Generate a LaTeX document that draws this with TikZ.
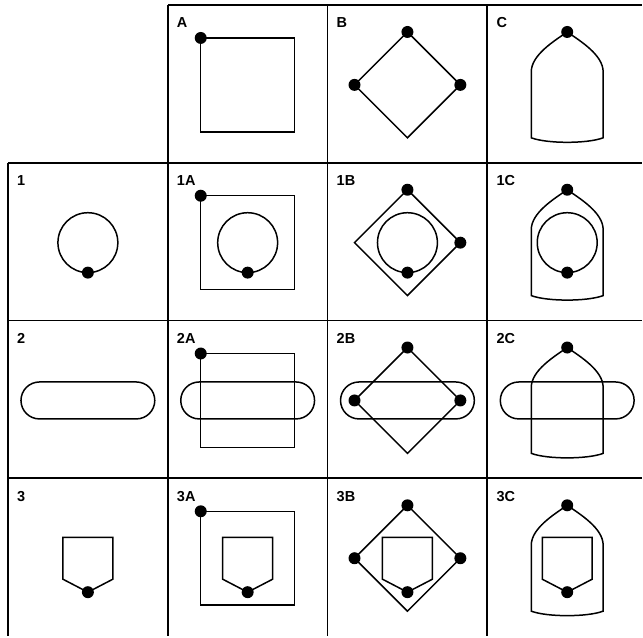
\documentclass[tikz,border=0pt]{standalone}
\usepackage{fontspec}
\setmainfont{Liberation Sans}
\usetikzlibrary{positioning}
\tikzset{
    cellline/.style={line width=1.8pt},
    shapeline/.style={line width=1.5pt},
    tag/.style={anchor=base west, inner sep=0pt, font=\fontsize{14.5}{15}\selectfont\bfseries},
    pics/frame/.style={code={
        \draw[shapeline] (-47,-47) rectangle (47,47);
        \fill (-47,-47) circle (6);}},
    pics/kite/.style={code={
        \draw[shapeline] (0,-53) -- (53,0) -- (0,53) -- (-53,0) -- cycle;
        \foreach \p in {#1} \fill \p circle (6);}},
    pics/arch/.style={code={
        \draw[shapeline] (-36,-13) .. controls (-36,-30) and (-13,-44) .. (0,-53)
            .. controls (13,-44) and (36,-30) .. (36,-13) -- (36,53)
            .. controls (20,59) and (-20,59) .. (-36,53) -- cycle;
        \fill (0,-53) circle (6);}},
    pics/ring/.style={code={
        \draw[shapeline] (0,0) circle (30);
        \fill (0,30) circle (6);}},
    pics/slot/.style={code={
        \draw[shapeline, rounded corners=18.5] (-67,-18.5) rectangle (67,18.5);}},
    pics/shield/.style={code={
        \draw[shapeline] (-25,-21) -- (25,-21) -- (25,21) -- (0,34) -- (-25,21) -- cycle;
        \fill (0,34) circle (6);}}
}

\begin{document}
\begin{tikzpicture}[x=1pt, y=-1pt]
  \fill[white] (0,0) rectangle (643,637);
  % grid
  \foreach \x in {168,328,488}
    \draw[cellline] (\x,5) -- (\x,637);
  \draw[cellline] (8,163) -- (8,637);
  \draw[cellline] (168,5) -- (643,5);
  \foreach \y in {163,321,479}
    \draw[cellline] (8,\y) -- (643,\y);
  % labels
  \foreach \col/\row/\txt in {1/0/A, 2/0/B, 3/0/C, 0/1/1, 1/1/1A, 2/1/1B, 3/1/1C,
      0/2/2, 1/2/2A, 2/2/2B, 3/2/2C, 0/3/3, 1/3/3A, 2/3/3B, 3/3/3C}
    \node[tag] (t\txt) at ({17+160*\col}, {28+158*\row}) {\txt};
  % top row
  \pic at (248,85) {frame};
  \pic at (408,85) {kite={(0,-53),(53,0),(-53,0)}};
  \pic at (568,85) {arch};
  % circle row
  \pic at (88,243) {ring};
  \pic at (248,243) {frame};
  \pic at (248,243) {ring};
  \pic at (408,243) {kite={(0,-53),(53,0)}};
  \pic at (408,243) {ring};
  \pic at (568,243) {arch};
  \pic at (568,243) {ring};
  % slot row
  \pic at (88,401) {slot};
  \pic at (248,401) {frame};
  \pic at (248,401) {slot};
  \pic at (408,401) {kite={(0,-53),(53,0),(-53,0)}};
  \pic at (408,401) {slot};
  \pic at (568,401) {arch};
  \pic at (568,401) {slot};
  % shield row
  \pic at (88,559) {shield};
  \pic at (248,559) {frame};
  \pic at (248,559) {shield};
  \pic at (408,559) {kite={(0,-53),(53,0),(-53,0)}};
  \pic at (408,559) {shield};
  \pic at (568,559) {arch};
  \pic at (568,559) {shield};
\end{tikzpicture}
\end{document}
